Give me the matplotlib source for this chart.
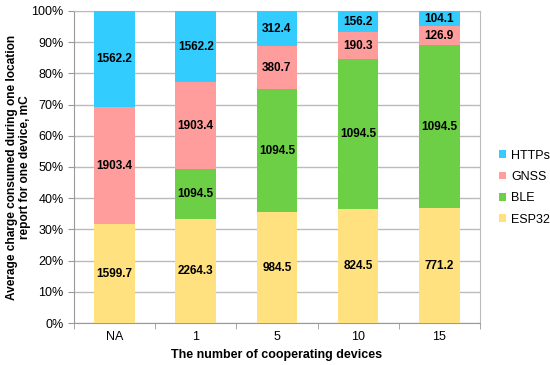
import numpy as np
import matplotlib
matplotlib.use("Agg")
import matplotlib.pyplot as plt
from matplotlib.ticker import PercentFormatter

plt.rcParams["font.family"] = ["Liberation Sans", "DejaVu Sans"]

categories = ["NA", "1", "5", "10", "15"]
esp32 = [1599.7, 2264.3, 984.5, 824.5, 771.2]
ble = [0.0, 1094.5, 1094.5, 1094.5, 1094.5]
gnss = [1903.4, 1903.4, 380.7, 190.3, 126.9]
https = [1562.2, 1562.2, 312.4, 156.2, 104.1]

series = [("ESP32", esp32, "#FFE17F"),
          ("BLE", ble, "#6DCF45"),
          ("GNSS", gnss, "#FF9C9C"),
          ("HTTPs", https, "#33CCFF")]

totals = np.sum([s[1] for s in series], axis=0)

fig = plt.figure(figsize=(5.5, 3.65), dpi=100)
ax = fig.add_axes([0.1345, 0.115, 0.738, 0.855])

x = np.arange(len(categories))
bottom = np.zeros(len(categories))
handles = []
for name, vals, color in series:
    share = np.array(vals) / totals * 100
    bars = ax.bar(x, share, 0.5, bottom=bottom, color=color, label=name, zorder=3)
    handles.append(bars)
    for xi, b, s, v in zip(x, bottom, share, vals):
        if v > 0:
            ax.text(xi, b + s / 2, f"{v:.1f}", ha="center", va="center",
                    fontsize=8.5, fontweight="bold", zorder=4)
    bottom += share

ax.set_xlim(-0.5, len(categories) - 0.5)
ax.set_ylim(0, 100)
ax.set_yticks(np.arange(0, 101, 10))
ax.yaxis.set_major_formatter(PercentFormatter(decimals=0))
ax.set_xticks(x)
ax.set_xticklabels(categories)
ax.set_xticks(np.arange(-0.5, len(categories), 1), minor=True)
ax.tick_params(axis="x", which="major", length=0, pad=6, labelsize=9)
ax.tick_params(axis="x", which="minor", length=4, color="#999999")
ax.tick_params(axis="y", length=4, color="#999999", labelsize=9)
ax.grid(axis="y", color="#BBBBBB", linewidth=1, zorder=0)
for sp in ax.spines.values():
    sp.set_color("#BBBBBB")
ax.spines["left"].set_color("#999999")
ax.spines["bottom"].set_color("#999999")

ax.set_xlabel("The number of cooperating devices", fontsize=9, fontweight="bold",
              labelpad=4)
ax.set_ylabel("Average charge consumed during one location\nreport for one device, mC",
              fontsize=8.6, fontweight="bold", linespacing=1.15)
ax.yaxis.set_label_coords(-0.105, 0.5)

ax.legend(handles[::-1], [s[0] for s in series][::-1], loc="center left",
          bbox_to_anchor=(1.02, 0.434), frameon=False, fontsize=9,
          handlelength=0.55, handleheight=0.55, handletextpad=0.4, labelspacing=0.75)

fig.savefig("out.png", dpi=100)
